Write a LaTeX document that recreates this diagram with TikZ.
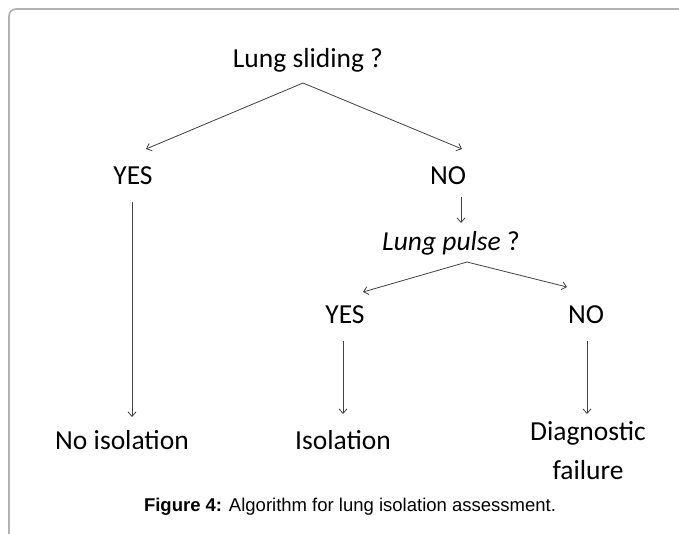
\documentclass[tikz,border=0pt]{standalone}
\usepackage{fontspec}
\setmainfont{Carlito}
\newfontfamily\capfont{Liberation Sans}
\usetikzlibrary{arrows.meta}
\begin{document}
\begin{tikzpicture}[x=1pt,y=-1pt,
  lbl/.style={font=\fontsize{27.5}{34}\selectfont, anchor=base, inner sep=0pt, text=black},
  arr/.style={draw=black!75, line width=0.8pt, -{Straight Barb[length=4.5pt,width=8pt]}},
  frame/.style={draw=black!30, line width=1.6pt, rounded corners=7pt}]
\useasboundingbox (0,0) rectangle (679,533);
\draw[frame] (9,540) -- (9,9) -- (690,9);
% nodes
\node[lbl] (ls) at (308,67) {Lung sliding ?};
\node[lbl] (yes1) at (133,184) {YES};
\node[lbl] (no1) at (448,184) {NO};
\node[lbl] (lp) at (451,250) {\textit{Lung pulse} ?};
\node[lbl] (yes2) at (345,323) {YES};
\node[lbl] (no2) at (586,323) {NO};
\node[lbl] (noiso) at (122,449) {No isolation};
\node[lbl] (iso) at (343,449) {Isolation};
\node[lbl, align=center] (diag) at (588,479) {Diagnostic\\[5pt]failure};
\node[font=\capfont\fontsize{18.5}{22}\selectfont, anchor=base, inner sep=0pt] (cap) at (350,511) {\textbf{Figure 4:} Algorithm for lung isolation assessment.};
% connector points
\coordinate (s1) at (303,83);
\coordinate (y1t) at (146,149);
\coordinate (n1t) at (462,149);
\coordinate (n1a) at (461,197);
\coordinate (n1b) at (461,223);
\coordinate (s2) at (467,262);
\coordinate (y2t) at (363,292);
\coordinate (n2t) at (567,287);
\coordinate (y1a) at (132,202);
\coordinate (y1b) at (132,417);
\coordinate (y2a) at (343,341);
\coordinate (y2b) at (343,414);
\coordinate (n2a) at (587,341);
\coordinate (n2b) at (587,414);
\draw[arr] (s1) -- (y1t);
\draw[arr] (s1) -- (n1t);
\draw[arr] (n1a) -- (n1b);
\draw[arr] (s2) -- (y2t);
\draw[arr] (s2) -- (n2t);
\draw[arr] (y1a) -- (y1b);
\draw[arr] (y2a) -- (y2b);
\draw[arr] (n2a) -- (n2b);
\end{tikzpicture}
\end{document}
